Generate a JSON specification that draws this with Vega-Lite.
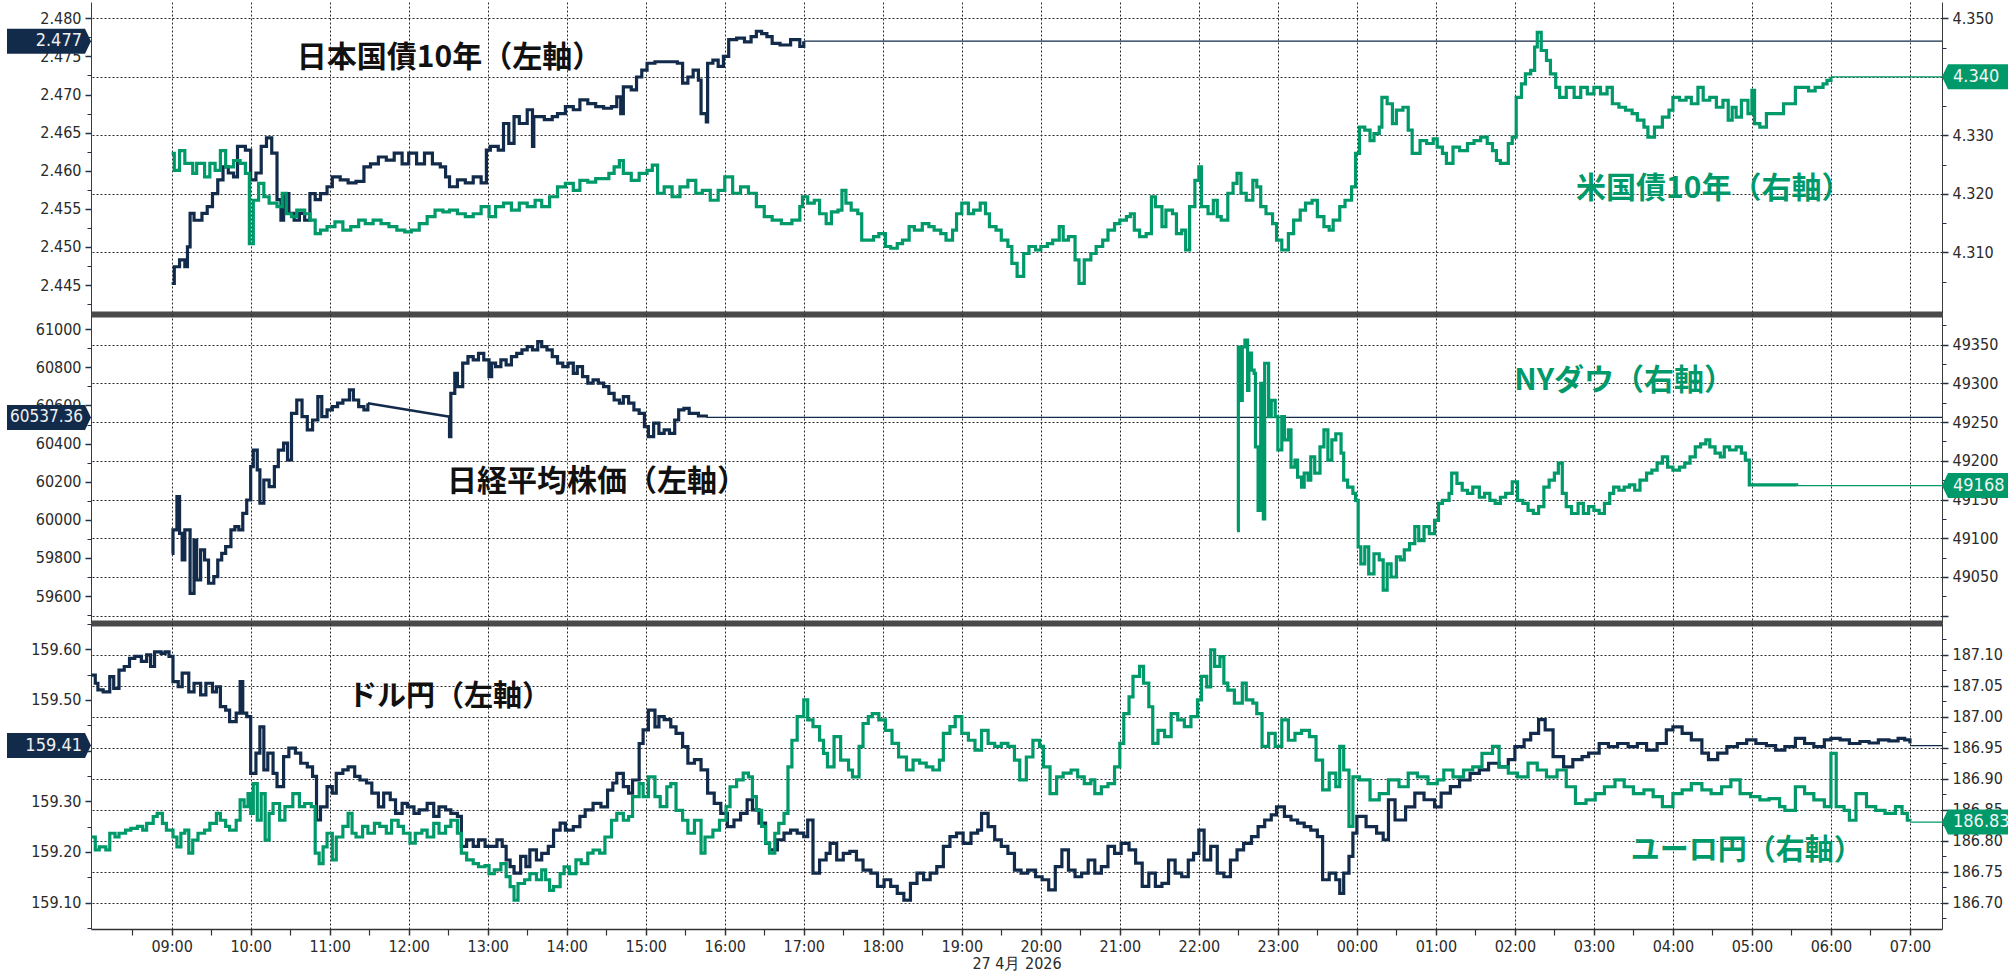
{
"$schema": "https://vega.github.io/schema/vega-lite/v6.json",
"background": "white",
"padding": {"left": 7, "right": 2, "top": 2, "bottom": 0},
"bounds": "flush",
"spacing": 0,
"config": {
  "view": {"stroke": null},
  "axis": {"labelFont": "DejaVu Sans Condensed", "labelFontSize": 16, "labelColor": "#2a2a2a", "domainColor": "#3c3c3c", "tickColor": "#22324a", "tickWidth": 1.5, "tickSize": 6, "gridColor": "#2a2a2a", "gridDash": [2, 2], "gridWidth": 1, "labelOverlap": false, "titleFont": "DejaVu Sans Condensed"}
},
"datasets": {
"midnight": [{"t": "28 00:00"}],
"jgbLast": [{"t": "27 17:00", "t2": "28 07:25", "v": 2.477}],
"ustLast": [{"t": "28 06:00", "t2": "28 07:25", "v": 4.34}],
"nkLast": [{"t": "27 15:46", "t2": "28 07:25", "v": 60537.36}],
"djLast": [{"t": "28 05:34", "t2": "28 07:25", "v": 49168}],
"ujLast": [{"t": "28 07:00", "t2": "28 07:25", "v": 159.41}],
"ejLast": [{"t": "28 07:00", "t2": "28 07:25", "v": 186.83}],
"jgb": [
{"t":"27 09:00","v":2.4452},{"t":"27 09:02","v":2.4474},{"t":"27 09:06","v":2.4483},{"t":"27 09:10","v":2.4474},{"t":"27 09:12","v":2.4500},{"t":"27 09:14","v":2.4544},{"t":"27 09:17","v":2.4535},{"t":"27 09:23","v":2.4544},{"t":"27 09:27","v":2.4553},{"t":"27 09:31","v":2.4570},{"t":"27 09:35","v":2.4588},{"t":"27 09:39","v":2.4605},{"t":"27 09:43","v":2.4597},{"t":"27 09:47","v":2.4592},{"t":"27 09:50","v":2.4632},{"t":"27 09:56","v":2.4627},{"t":"27 10:00","v":2.4588},{"t":"27 10:04","v":2.4597},{"t":"27 10:08","v":2.4632},{"t":"27 10:12","v":2.4643},{"t":"27 10:16","v":2.4623},{"t":"27 10:20","v":2.4562},{"t":"27 10:23","v":2.4535},{"t":"27 10:25","v":2.4570},{"t":"27 10:29","v":2.4544},{"t":"27 10:33","v":2.4535},{"t":"27 10:37","v":2.4544},{"t":"27 10:41","v":2.4535},{"t":"27 10:45","v":2.4570},{"t":"27 10:49","v":2.4562},{"t":"27 10:53","v":2.4570},{"t":"27 10:58","v":2.4579},{"t":"27 11:02","v":2.4592},{"t":"27 11:08","v":2.4588},{"t":"27 11:14","v":2.4584},{"t":"27 11:20","v":2.4586},{"t":"27 11:26","v":2.4605},{"t":"27 11:31","v":2.4609},{"t":"27 11:37","v":2.4618},{"t":"27 11:43","v":2.4614},{"t":"27 11:49","v":2.4623},{"t":"27 11:55","v":2.4609},{"t":"27 12:00","v":2.4623},{"t":"27 12:06","v":2.4609},{"t":"27 12:12","v":2.4623},{"t":"27 12:18","v":2.4609},{"t":"27 12:24","v":2.4605},{"t":"27 12:28","v":2.4592},{"t":"27 12:31","v":2.4579},{"t":"27 12:37","v":2.4588},{"t":"27 12:43","v":2.4584},{"t":"27 12:49","v":2.4592},{"t":"27 12:55","v":2.4584},{"t":"27 12:59","v":2.4627},{"t":"27 13:02","v":2.4632},{"t":"27 13:08","v":2.4627},{"t":"27 13:12","v":2.4662},{"t":"27 13:16","v":2.4636},{"t":"27 13:20","v":2.4671},{"t":"27 13:24","v":2.4662},{"t":"27 13:30","v":2.4680},{"t":"27 13:34","v":2.4632},{"t":"27 13:35","v":2.4671},{"t":"27 13:43","v":2.4667},{"t":"27 13:49","v":2.4671},{"t":"27 13:53","v":2.4675},{"t":"27 13:59","v":2.4684},{"t":"27 14:05","v":2.4680},{"t":"27 14:10","v":2.4693},{"t":"27 14:16","v":2.4688},{"t":"27 14:22","v":2.4684},{"t":"27 14:28","v":2.4682},{"t":"27 14:34","v":2.4684},{"t":"27 14:38","v":2.4697},{"t":"27 14:41","v":2.4675},{"t":"27 14:43","v":2.4710},{"t":"27 14:49","v":2.4706},{"t":"27 14:53","v":2.4723},{"t":"27 14:57","v":2.4732},{"t":"27 15:01","v":2.4741},{"t":"27 15:07","v":2.4743},{"t":"27 15:24","v":2.4741},{"t":"27 15:28","v":2.4715},{"t":"27 15:32","v":2.4723},{"t":"27 15:36","v":2.4732},{"t":"27 15:40","v":2.4719},{"t":"27 15:42","v":2.4675},{"t":"27 15:46","v":2.4664},{"t":"27 15:47","v":2.4741},{"t":"27 15:51","v":2.4745},{"t":"27 15:55","v":2.4737},{"t":"27 15:59","v":2.4750},{"t":"27 16:03","v":2.4772},{"t":"27 16:09","v":2.4774},{"t":"27 16:15","v":2.4769},{"t":"27 16:20","v":2.4776},{"t":"27 16:24","v":2.4783},{"t":"27 16:28","v":2.4780},{"t":"27 16:32","v":2.4776},{"t":"27 16:36","v":2.4767},{"t":"27 16:42","v":2.4765},{"t":"27 16:50","v":2.4772},{"t":"27 16:57","v":2.4763},{"t":"27 17:00","v":2.4770}
],
"ust": [
{"t":"27 09:00","v":4.3269},{"t":"27 09:02","v":4.3240},{"t":"27 09:06","v":4.3274},{"t":"27 09:10","v":4.3252},{"t":"27 09:16","v":4.3235},{"t":"27 09:19","v":4.3252},{"t":"27 09:25","v":4.3229},{"t":"27 09:29","v":4.3252},{"t":"27 09:33","v":4.3240},{"t":"27 09:37","v":4.3274},{"t":"27 09:41","v":4.3246},{"t":"27 09:47","v":4.3257},{"t":"27 09:52","v":4.3252},{"t":"27 09:56","v":4.3235},{"t":"27 09:59","v":4.3115},{"t":"27 10:02","v":4.3189},{"t":"27 10:06","v":4.3218},{"t":"27 10:10","v":4.3195},{"t":"27 10:14","v":4.3184},{"t":"27 10:20","v":4.3178},{"t":"27 10:24","v":4.3201},{"t":"27 10:27","v":4.3166},{"t":"27 10:31","v":4.3161},{"t":"27 10:35","v":4.3172},{"t":"27 10:41","v":4.3166},{"t":"27 10:45","v":4.3155},{"t":"27 10:49","v":4.3132},{"t":"27 10:53","v":4.3138},{"t":"27 10:58","v":4.3144},{"t":"27 11:04","v":4.3152},{"t":"27 11:10","v":4.3138},{"t":"27 11:16","v":4.3144},{"t":"27 11:22","v":4.3155},{"t":"27 11:27","v":4.3149},{"t":"27 11:33","v":4.3155},{"t":"27 11:39","v":4.3149},{"t":"27 11:45","v":4.3144},{"t":"27 11:51","v":4.3138},{"t":"27 11:57","v":4.3135},{"t":"27 12:02","v":4.3138},{"t":"27 12:08","v":4.3149},{"t":"27 12:14","v":4.3161},{"t":"27 12:20","v":4.3172},{"t":"27 12:26","v":4.3169},{"t":"27 12:31","v":4.3172},{"t":"27 12:37","v":4.3166},{"t":"27 12:43","v":4.3161},{"t":"27 12:49","v":4.3166},{"t":"27 12:55","v":4.3178},{"t":"27 13:01","v":4.3161},{"t":"27 13:06","v":4.3178},{"t":"27 13:12","v":4.3184},{"t":"27 13:18","v":4.3172},{"t":"27 13:24","v":4.3184},{"t":"27 13:30","v":4.3178},{"t":"27 13:36","v":4.3189},{"t":"27 13:41","v":4.3178},{"t":"27 13:47","v":4.3195},{"t":"27 13:53","v":4.3212},{"t":"27 13:59","v":4.3218},{"t":"27 14:05","v":4.3206},{"t":"27 14:10","v":4.3223},{"t":"27 14:16","v":4.3220},{"t":"27 14:22","v":4.3226},{"t":"27 14:32","v":4.3235},{"t":"27 14:36","v":4.3246},{"t":"27 14:40","v":4.3257},{"t":"27 14:43","v":4.3235},{"t":"27 14:49","v":4.3223},{"t":"27 14:55","v":4.3235},{"t":"27 15:01","v":4.3240},{"t":"27 15:05","v":4.3249},{"t":"27 15:09","v":4.3201},{"t":"27 15:14","v":4.3212},{"t":"27 15:20","v":4.3195},{"t":"27 15:26","v":4.3212},{"t":"27 15:32","v":4.3223},{"t":"27 15:38","v":4.3201},{"t":"27 15:43","v":4.3206},{"t":"27 15:49","v":4.3189},{"t":"27 15:55","v":4.3206},{"t":"27 16:00","v":4.3229},{"t":"27 16:06","v":4.3201},{"t":"27 16:12","v":4.3212},{"t":"27 16:18","v":4.3201},{"t":"27 16:24","v":4.3178},{"t":"27 16:30","v":4.3161},{"t":"27 16:36","v":4.3155},{"t":"27 16:43","v":4.3149},{"t":"27 16:51","v":4.3155},{"t":"27 16:57","v":4.3178},{"t":"27 16:59","v":4.3195},{"t":"27 17:03","v":4.3184},{"t":"27 17:08","v":4.3189},{"t":"27 17:12","v":4.3166},{"t":"27 17:17","v":4.3149},{"t":"27 17:21","v":4.3169},{"t":"27 17:26","v":4.3172},{"t":"27 17:29","v":4.3206},{"t":"27 17:32","v":4.3184},{"t":"27 17:36","v":4.3172},{"t":"27 17:41","v":4.3166},{"t":"27 17:44","v":4.3121},{"t":"27 17:53","v":4.3127},{"t":"27 17:57","v":4.3132},{"t":"27 18:02","v":4.3110},{"t":"27 18:06","v":4.3107},{"t":"27 18:11","v":4.3115},{"t":"27 18:15","v":4.3121},{"t":"27 18:20","v":4.3144},{"t":"27 18:24","v":4.3138},{"t":"27 18:30","v":4.3149},{"t":"27 18:35","v":4.3144},{"t":"27 18:39","v":4.3138},{"t":"27 18:44","v":4.3132},{"t":"27 18:48","v":4.3121},{"t":"27 18:53","v":4.3138},{"t":"27 18:56","v":4.3166},{"t":"27 19:00","v":4.3184},{"t":"27 19:05","v":4.3166},{"t":"27 19:09","v":4.3172},{"t":"27 19:14","v":4.3184},{"t":"27 19:18","v":4.3166},{"t":"27 19:21","v":4.3144},{"t":"27 19:26","v":4.3138},{"t":"27 19:30","v":4.3121},{"t":"27 19:35","v":4.3110},{"t":"27 19:38","v":4.3081},{"t":"27 19:42","v":4.3059},{"t":"27 19:47","v":4.3098},{"t":"27 19:51","v":4.3110},{"t":"27 19:56","v":4.3104},{"t":"27 20:00","v":4.3110},{"t":"27 20:05","v":4.3115},{"t":"27 20:09","v":4.3121},{"t":"27 20:14","v":4.3144},{"t":"27 20:17","v":4.3121},{"t":"27 20:21","v":4.3127},{"t":"27 20:26","v":4.3087},{"t":"27 20:29","v":4.3047},{"t":"27 20:33","v":4.3087},{"t":"27 20:38","v":4.3098},{"t":"27 20:42","v":4.3110},{"t":"27 20:47","v":4.3121},{"t":"27 20:51","v":4.3138},{"t":"27 20:56","v":4.3149},{"t":"27 21:00","v":4.3155},{"t":"27 21:05","v":4.3161},{"t":"27 21:08","v":4.3166},{"t":"27 21:11","v":4.3138},{"t":"27 21:15","v":4.3127},{"t":"27 21:20","v":4.3132},{"t":"27 21:24","v":4.3195},{"t":"27 21:27","v":4.3178},{"t":"27 21:32","v":4.3144},{"t":"27 21:35","v":4.3172},{"t":"27 21:40","v":4.3166},{"t":"27 21:43","v":4.3132},{"t":"27 21:47","v":4.3138},{"t":"27 21:50","v":4.3104},{"t":"27 21:53","v":4.3178},{"t":"27 21:57","v":4.3223},{"t":"27 22:00","v":4.3246},{"t":"27 22:02","v":4.3178},{"t":"27 22:07","v":4.3166},{"t":"27 22:11","v":4.3189},{"t":"27 22:14","v":4.3161},{"t":"27 22:17","v":4.3155},{"t":"27 22:22","v":4.3201},{"t":"27 22:26","v":4.3218},{"t":"27 22:29","v":4.3235},{"t":"27 22:32","v":4.3201},{"t":"27 22:36","v":4.3189},{"t":"27 22:41","v":4.3223},{"t":"27 22:44","v":4.3212},{"t":"27 22:47","v":4.3178},{"t":"27 22:51","v":4.3166},{"t":"27 22:56","v":4.3149},{"t":"27 22:59","v":4.3121},{"t":"27 23:03","v":4.3104},{"t":"27 23:08","v":4.3132},{"t":"27 23:12","v":4.3155},{"t":"27 23:17","v":4.3172},{"t":"27 23:21","v":4.3184},{"t":"27 23:26","v":4.3189},{"t":"27 23:30","v":4.3161},{"t":"27 23:35","v":4.3144},{"t":"27 23:39","v":4.3138},{"t":"27 23:42","v":4.3155},{"t":"27 23:47","v":4.3178},{"t":"27 23:51","v":4.3189},{"t":"27 23:56","v":4.3212},{"t":"27 23:59","v":4.3269},{"t":"28 00:02","v":4.3314},{"t":"28 00:06","v":4.3309},{"t":"28 00:10","v":4.3291},{"t":"28 00:13","v":4.3303},{"t":"28 00:17","v":4.3314},{"t":"28 00:19","v":4.3365},{"t":"28 00:23","v":4.3354},{"t":"28 00:27","v":4.3320},{"t":"28 00:30","v":4.3343},{"t":"28 00:35","v":4.3348},{"t":"28 00:39","v":4.3309},{"t":"28 00:42","v":4.3269},{"t":"28 00:48","v":4.3291},{"t":"28 00:53","v":4.3286},{"t":"28 00:58","v":4.3294},{"t":"28 01:01","v":4.3280},{"t":"28 01:05","v":4.3269},{"t":"28 01:08","v":4.3252},{"t":"28 01:13","v":4.3280},{"t":"28 01:18","v":4.3274},{"t":"28 01:24","v":4.3286},{"t":"28 01:29","v":4.3291},{"t":"28 01:34","v":4.3297},{"t":"28 01:39","v":4.3286},{"t":"28 01:43","v":4.3274},{"t":"28 01:46","v":4.3257},{"t":"28 01:49","v":4.3252},{"t":"28 01:55","v":4.3286},{"t":"28 01:58","v":4.3297},{"t":"28 02:01","v":4.3365},{"t":"28 02:05","v":4.3388},{"t":"28 02:08","v":4.3405},{"t":"28 02:12","v":4.3411},{"t":"28 02:15","v":4.3451},{"t":"28 02:17","v":4.3476},{"t":"28 02:20","v":4.3445},{"t":"28 02:24","v":4.3428},{"t":"28 02:27","v":4.3405},{"t":"28 02:31","v":4.3382},{"t":"28 02:34","v":4.3365},{"t":"28 02:39","v":4.3382},{"t":"28 02:45","v":4.3365},{"t":"28 02:50","v":4.3382},{"t":"28 02:55","v":4.3371},{"t":"28 03:00","v":4.3382},{"t":"28 03:05","v":4.3371},{"t":"28 03:10","v":4.3382},{"t":"28 03:14","v":4.3354},{"t":"28 03:19","v":4.3348},{"t":"28 03:24","v":4.3343},{"t":"28 03:29","v":4.3337},{"t":"28 03:33","v":4.3326},{"t":"28 03:38","v":4.3314},{"t":"28 03:41","v":4.3297},{"t":"28 03:46","v":4.3314},{"t":"28 03:52","v":4.3331},{"t":"28 03:57","v":4.3343},{"t":"28 04:00","v":4.3365},{"t":"28 04:05","v":4.3360},{"t":"28 04:10","v":4.3365},{"t":"28 04:14","v":4.3354},{"t":"28 04:19","v":4.3382},{"t":"28 04:23","v":4.3360},{"t":"28 04:28","v":4.3365},{"t":"28 04:33","v":4.3348},{"t":"28 04:38","v":4.3360},{"t":"28 04:42","v":4.3326},{"t":"28 04:45","v":4.3348},{"t":"28 04:48","v":4.3331},{"t":"28 04:52","v":4.3360},{"t":"28 04:57","v":4.3337},{"t":"28 05:00","v":4.3377},{"t":"28 05:02","v":4.3320},{"t":"28 05:06","v":4.3314},{"t":"28 05:11","v":4.3337},{"t":"28 05:24","v":4.3354},{"t":"28 05:33","v":4.3382},{"t":"28 05:43","v":4.3376},{"t":"28 05:48","v":4.3382},{"t":"28 05:54","v":4.3388},{"t":"28 05:57","v":4.3394},{"t":"28 06:00","v":4.3400}
],
"nkAM": [
{"t":"27 09:00","v":59824},{"t":"27 09:01","v":59947},{"t":"27 09:04","v":60122},{"t":"27 09:06","v":59929},{"t":"27 09:08","v":59789},{"t":"27 09:10","v":59947},{"t":"27 09:14","v":59614},{"t":"27 09:17","v":59894},{"t":"27 09:19","v":59684},{"t":"27 09:22","v":59842},{"t":"27 09:25","v":59789},{"t":"27 09:28","v":59667},{"t":"27 09:32","v":59702},{"t":"27 09:35","v":59789},{"t":"27 09:38","v":59824},{"t":"27 09:41","v":59859},{"t":"27 09:45","v":59947},{"t":"27 09:48","v":59964},{"t":"27 09:51","v":59947},{"t":"27 09:54","v":60034},{"t":"27 09:57","v":60104},{"t":"27 10:00","v":60279},{"t":"27 10:02","v":60366},{"t":"27 10:05","v":60262},{"t":"27 10:07","v":60087},{"t":"27 10:10","v":60209},{"t":"27 10:14","v":60174},{"t":"27 10:18","v":60279},{"t":"27 10:21","v":60366},{"t":"27 10:25","v":60402},{"t":"27 10:28","v":60314},{"t":"27 10:31","v":60559},{"t":"27 10:35","v":60629},{"t":"27 10:39","v":60542},{"t":"27 10:43","v":60472},{"t":"27 10:47","v":60524},{"t":"27 10:51","v":60647},{"t":"27 10:54","v":60542},{"t":"27 10:58","v":60577},{"t":"27 11:02","v":60594},{"t":"27 11:06","v":60612},{"t":"27 11:10","v":60629},{"t":"27 11:15","v":60682},{"t":"27 11:18","v":60629},{"t":"27 11:22","v":60594},{"t":"27 11:26","v":60577},{"t":"27 11:29","v":60612}
],
"nkLunch": [{"t":"27 11:29","v":60612},{"t":"27 12:30","v":60542}],
"nkPM": [
{"t":"27 12:30","v":60542},{"t":"27 12:31","v":60437},{"t":"27 12:32","v":60664},{"t":"27 12:35","v":60769},{"t":"27 12:37","v":60699},{"t":"27 12:41","v":60822},{"t":"27 12:45","v":60857},{"t":"27 12:49","v":60839},{"t":"27 12:53","v":60874},{"t":"27 12:57","v":60839},{"t":"27 13:01","v":60752},{"t":"27 13:03","v":60822},{"t":"27 13:06","v":60804},{"t":"27 13:10","v":60839},{"t":"27 13:14","v":60813},{"t":"27 13:18","v":60857},{"t":"27 13:22","v":60874},{"t":"27 13:26","v":60892},{"t":"27 13:30","v":60909},{"t":"27 13:34","v":60892},{"t":"27 13:38","v":60935},{"t":"27 13:41","v":60909},{"t":"27 13:45","v":60892},{"t":"27 13:49","v":60857},{"t":"27 13:53","v":60822},{"t":"27 13:57","v":60804},{"t":"27 14:01","v":60822},{"t":"27 14:05","v":60769},{"t":"27 14:08","v":60804},{"t":"27 14:12","v":60752},{"t":"27 14:16","v":60717},{"t":"27 14:20","v":60734},{"t":"27 14:24","v":60717},{"t":"27 14:28","v":60699},{"t":"27 14:32","v":60664},{"t":"27 14:36","v":60629},{"t":"27 14:40","v":60612},{"t":"27 14:43","v":60647},{"t":"27 14:47","v":60612},{"t":"27 14:51","v":60577},{"t":"27 14:55","v":60559},{"t":"27 14:59","v":60489},{"t":"27 15:02","v":60437},{"t":"27 15:06","v":60507},{"t":"27 15:10","v":60454},{"t":"27 15:14","v":60472},{"t":"27 15:18","v":60454},{"t":"27 15:22","v":60524},{"t":"27 15:25","v":60577},{"t":"27 15:29","v":60585},{"t":"27 15:33","v":60559},{"t":"27 15:40","v":60545},{"t":"27 15:46","v":60537}
],
"dj": [
{"t":"27 22:29","v":49110},{"t":"27 22:30","v":49347},{"t":"27 22:32","v":49278},{"t":"27 22:33","v":49347},{"t":"27 22:35","v":49356},{"t":"27 22:37","v":49291},{"t":"27 22:38","v":49339},{"t":"27 22:40","v":49317},{"t":"27 22:42","v":49313},{"t":"27 22:43","v":49218},{"t":"27 22:45","v":49136},{"t":"27 22:47","v":49300},{"t":"27 22:49","v":49125},{"t":"27 22:50","v":49326},{"t":"27 22:53","v":49257},{"t":"27 22:55","v":49278},{"t":"27 22:58","v":49257},{"t":"27 23:00","v":49214},{"t":"27 23:03","v":49257},{"t":"27 23:05","v":49227},{"t":"27 23:08","v":49240},{"t":"27 23:10","v":49192},{"t":"27 23:13","v":49201},{"t":"27 23:15","v":49179},{"t":"27 23:18","v":49166},{"t":"27 23:20","v":49184},{"t":"27 23:23","v":49175},{"t":"27 23:25","v":49205},{"t":"27 23:28","v":49184},{"t":"27 23:32","v":49218},{"t":"27 23:35","v":49240},{"t":"27 23:38","v":49201},{"t":"27 23:41","v":49227},{"t":"27 23:44","v":49235},{"t":"27 23:48","v":49210},{"t":"27 23:50","v":49175},{"t":"27 23:53","v":49166},{"t":"27 23:57","v":49158},{"t":"27 23:59","v":49149},{"t":"28 00:01","v":49089},{"t":"28 00:03","v":49067},{"t":"28 00:06","v":49089},{"t":"28 00:09","v":49054},{"t":"28 00:13","v":49080},{"t":"28 00:17","v":49072},{"t":"28 00:20","v":49033},{"t":"28 00:23","v":49067},{"t":"28 00:26","v":49050},{"t":"28 00:30","v":49076},{"t":"28 00:33","v":49072},{"t":"28 00:36","v":49085},{"t":"28 00:40","v":49093},{"t":"28 00:44","v":49115},{"t":"28 00:47","v":49097},{"t":"28 00:51","v":49115},{"t":"28 00:55","v":49106},{"t":"28 00:59","v":49123},{"t":"28 01:02","v":49145},{"t":"28 01:05","v":49149},{"t":"28 01:10","v":49158},{"t":"28 01:12","v":49184},{"t":"28 01:16","v":49171},{"t":"28 01:20","v":49162},{"t":"28 01:24","v":49158},{"t":"28 01:28","v":49166},{"t":"28 01:33","v":49153},{"t":"28 01:37","v":49158},{"t":"28 01:41","v":49149},{"t":"28 01:45","v":49145},{"t":"28 01:49","v":49153},{"t":"28 01:53","v":49158},{"t":"28 01:58","v":49173},{"t":"28 02:02","v":49149},{"t":"28 02:06","v":49145},{"t":"28 02:10","v":49136},{"t":"28 02:14","v":49132},{"t":"28 02:18","v":49141},{"t":"28 02:22","v":49166},{"t":"28 02:26","v":49175},{"t":"28 02:30","v":49184},{"t":"28 02:33","v":49197},{"t":"28 02:36","v":49158},{"t":"28 02:39","v":49141},{"t":"28 02:43","v":49132},{"t":"28 02:48","v":49145},{"t":"28 02:52","v":49132},{"t":"28 02:56","v":49141},{"t":"28 03:00","v":49136},{"t":"28 03:04","v":49132},{"t":"28 03:08","v":49145},{"t":"28 03:12","v":49158},{"t":"28 03:15","v":49166},{"t":"28 03:19","v":49162},{"t":"28 03:23","v":49166},{"t":"28 03:27","v":49169},{"t":"28 03:31","v":49162},{"t":"28 03:35","v":49175},{"t":"28 03:40","v":49184},{"t":"28 03:44","v":49188},{"t":"28 03:48","v":49197},{"t":"28 03:52","v":49205},{"t":"28 03:56","v":49192},{"t":"28 04:00","v":49188},{"t":"28 04:05","v":49192},{"t":"28 04:09","v":49197},{"t":"28 04:13","v":49205},{"t":"28 04:17","v":49218},{"t":"28 04:21","v":49222},{"t":"28 04:25","v":49227},{"t":"28 04:28","v":49218},{"t":"28 04:32","v":49210},{"t":"28 04:36","v":49205},{"t":"28 04:39","v":49218},{"t":"28 04:43","v":49214},{"t":"28 04:48","v":49218},{"t":"28 04:52","v":49210},{"t":"28 04:55","v":49201},{"t":"28 04:58","v":49169},{"t":"28 05:34","v":49168}
],
"uj": [
{"t":"27 07:59","v":159.549},{"t":"27 08:02","v":159.533},{"t":"27 08:04","v":159.520},{"t":"27 08:08","v":159.516},{"t":"27 08:13","v":159.546},{"t":"27 08:16","v":159.523},{"t":"27 08:20","v":159.559},{"t":"27 08:24","v":159.566},{"t":"27 08:28","v":159.582},{"t":"27 08:32","v":159.586},{"t":"27 08:37","v":159.576},{"t":"27 08:41","v":159.589},{"t":"27 08:44","v":159.566},{"t":"27 08:47","v":159.595},{"t":"27 08:52","v":159.592},{"t":"27 08:55","v":159.595},{"t":"27 08:58","v":159.586},{"t":"27 09:01","v":159.536},{"t":"27 09:05","v":159.526},{"t":"27 09:08","v":159.553},{"t":"27 09:13","v":159.516},{"t":"27 09:17","v":159.533},{"t":"27 09:22","v":159.510},{"t":"27 09:26","v":159.533},{"t":"27 09:31","v":159.516},{"t":"27 09:34","v":159.526},{"t":"27 09:37","v":159.487},{"t":"27 09:41","v":159.480},{"t":"27 09:44","v":159.457},{"t":"27 09:49","v":159.474},{"t":"27 09:52","v":159.536},{"t":"27 09:54","v":159.474},{"t":"27 09:57","v":159.467},{"t":"27 10:00","v":159.355},{"t":"27 10:04","v":159.395},{"t":"27 10:07","v":159.447},{"t":"27 10:10","v":159.362},{"t":"27 10:13","v":159.395},{"t":"27 10:17","v":159.355},{"t":"27 10:20","v":159.329},{"t":"27 10:25","v":159.388},{"t":"27 10:29","v":159.405},{"t":"27 10:34","v":159.395},{"t":"27 10:38","v":159.375},{"t":"27 10:43","v":159.368},{"t":"27 10:47","v":159.349},{"t":"27 10:50","v":159.263},{"t":"27 10:53","v":159.289},{"t":"27 10:58","v":159.329},{"t":"27 11:02","v":159.316},{"t":"27 11:05","v":159.355},{"t":"27 11:10","v":159.362},{"t":"27 11:14","v":159.368},{"t":"27 11:19","v":159.349},{"t":"27 11:23","v":159.342},{"t":"27 11:28","v":159.336},{"t":"27 11:32","v":159.316},{"t":"27 11:37","v":159.289},{"t":"27 11:41","v":159.316},{"t":"27 11:46","v":159.303},{"t":"27 11:50","v":159.276},{"t":"27 11:55","v":159.296},{"t":"27 11:59","v":159.289},{"t":"27 12:04","v":159.276},{"t":"27 12:08","v":159.283},{"t":"27 12:14","v":159.296},{"t":"27 12:19","v":159.270},{"t":"27 12:23","v":159.289},{"t":"27 12:28","v":159.283},{"t":"27 12:32","v":159.276},{"t":"27 12:37","v":159.270},{"t":"27 12:40","v":159.211},{"t":"27 12:44","v":159.224},{"t":"27 12:49","v":159.211},{"t":"27 12:53","v":159.224},{"t":"27 12:58","v":159.211},{"t":"27 13:07","v":159.224},{"t":"27 13:11","v":159.211},{"t":"27 13:14","v":159.184},{"t":"27 13:17","v":159.171},{"t":"27 13:20","v":159.158},{"t":"27 13:25","v":159.191},{"t":"27 13:29","v":159.171},{"t":"27 13:32","v":159.204},{"t":"27 13:37","v":159.184},{"t":"27 13:41","v":159.197},{"t":"27 13:46","v":159.211},{"t":"27 13:50","v":159.243},{"t":"27 13:55","v":159.257},{"t":"27 13:59","v":159.243},{"t":"27 14:05","v":159.250},{"t":"27 14:10","v":159.270},{"t":"27 14:14","v":159.283},{"t":"27 14:20","v":159.296},{"t":"27 14:26","v":159.289},{"t":"27 14:31","v":159.322},{"t":"27 14:35","v":159.336},{"t":"27 14:38","v":159.355},{"t":"27 14:43","v":159.329},{"t":"27 14:47","v":159.316},{"t":"27 14:50","v":159.342},{"t":"27 14:55","v":159.414},{"t":"27 14:58","v":159.441},{"t":"27 15:02","v":159.480},{"t":"27 15:07","v":159.447},{"t":"27 15:10","v":159.467},{"t":"27 15:14","v":159.461},{"t":"27 15:19","v":159.447},{"t":"27 15:23","v":159.434},{"t":"27 15:28","v":159.408},{"t":"27 15:32","v":159.375},{"t":"27 15:37","v":159.382},{"t":"27 15:42","v":159.362},{"t":"27 15:47","v":159.316},{"t":"27 15:52","v":159.296},{"t":"27 15:57","v":159.276},{"t":"27 16:02","v":159.250},{"t":"27 16:07","v":159.263},{"t":"27 16:12","v":159.276},{"t":"27 16:17","v":159.303},{"t":"27 16:21","v":159.283},{"t":"27 16:26","v":159.257},{"t":"27 16:31","v":159.217},{"t":"27 16:34","v":159.204},{"t":"27 16:40","v":159.224},{"t":"27 16:45","v":159.237},{"t":"27 16:50","v":159.243},{"t":"27 16:55","v":159.237},{"t":"27 17:00","v":159.230},{"t":"27 17:03","v":159.263},{"t":"27 17:07","v":159.158},{"t":"27 17:12","v":159.184},{"t":"27 17:17","v":159.197},{"t":"27 17:20","v":159.217},{"t":"27 17:25","v":159.184},{"t":"27 17:30","v":159.197},{"t":"27 17:35","v":159.201},{"t":"27 17:40","v":159.184},{"t":"27 17:45","v":159.164},{"t":"27 17:51","v":159.158},{"t":"27 17:56","v":159.132},{"t":"27 18:01","v":159.145},{"t":"27 18:06","v":159.132},{"t":"27 18:11","v":159.118},{"t":"27 18:16","v":159.105},{"t":"27 18:21","v":159.138},{"t":"27 18:26","v":159.158},{"t":"27 18:31","v":159.145},{"t":"27 18:36","v":159.158},{"t":"27 18:41","v":159.171},{"t":"27 18:46","v":159.211},{"t":"27 18:51","v":159.230},{"t":"27 18:56","v":159.237},{"t":"27 19:01","v":159.217},{"t":"27 19:07","v":159.237},{"t":"27 19:12","v":159.243},{"t":"27 19:15","v":159.276},{"t":"27 19:20","v":159.250},{"t":"27 19:25","v":159.224},{"t":"27 19:30","v":159.211},{"t":"27 19:35","v":159.197},{"t":"27 19:40","v":159.164},{"t":"27 19:45","v":159.158},{"t":"27 19:50","v":159.164},{"t":"27 19:56","v":159.151},{"t":"27 20:01","v":159.145},{"t":"27 20:06","v":159.125},{"t":"27 20:11","v":159.171},{"t":"27 20:16","v":159.204},{"t":"27 20:21","v":159.164},{"t":"27 20:26","v":159.151},{"t":"27 20:31","v":159.158},{"t":"27 20:36","v":159.184},{"t":"27 20:41","v":159.158},{"t":"27 20:46","v":159.171},{"t":"27 20:51","v":159.211},{"t":"27 20:56","v":159.197},{"t":"27 21:01","v":159.217},{"t":"27 21:07","v":159.204},{"t":"27 21:12","v":159.178},{"t":"27 21:17","v":159.132},{"t":"27 21:22","v":159.158},{"t":"27 21:27","v":159.132},{"t":"27 21:32","v":159.138},{"t":"27 21:37","v":159.184},{"t":"27 21:42","v":159.158},{"t":"27 21:47","v":159.151},{"t":"27 21:52","v":159.184},{"t":"27 21:56","v":159.197},{"t":"27 22:00","v":159.243},{"t":"27 22:04","v":159.184},{"t":"27 22:09","v":159.211},{"t":"27 22:14","v":159.158},{"t":"27 22:19","v":159.151},{"t":"27 22:24","v":159.184},{"t":"27 22:29","v":159.204},{"t":"27 22:34","v":159.217},{"t":"27 22:40","v":159.230},{"t":"27 22:45","v":159.250},{"t":"27 22:50","v":159.263},{"t":"27 22:55","v":159.273},{"t":"27 22:59","v":159.289},{"t":"27 23:05","v":159.270},{"t":"27 23:10","v":159.263},{"t":"27 23:15","v":159.257},{"t":"27 23:20","v":159.250},{"t":"27 23:25","v":159.243},{"t":"27 23:30","v":159.230},{"t":"27 23:34","v":159.145},{"t":"27 23:39","v":159.158},{"t":"27 23:44","v":159.145},{"t":"27 23:47","v":159.118},{"t":"27 23:50","v":159.158},{"t":"27 23:54","v":159.191},{"t":"27 23:57","v":159.237},{"t":"28 00:00","v":159.270},{"t":"28 00:07","v":159.250},{"t":"28 00:15","v":159.237},{"t":"28 00:20","v":159.224},{"t":"28 00:24","v":159.303},{"t":"28 00:29","v":159.263},{"t":"28 00:37","v":159.289},{"t":"28 00:44","v":159.316},{"t":"28 00:51","v":159.303},{"t":"28 00:59","v":159.289},{"t":"28 01:04","v":159.316},{"t":"28 01:11","v":159.329},{"t":"28 01:18","v":159.342},{"t":"28 01:26","v":159.355},{"t":"28 01:33","v":159.362},{"t":"28 01:40","v":159.375},{"t":"28 01:48","v":159.368},{"t":"28 01:55","v":159.382},{"t":"28 02:00","v":159.408},{"t":"28 02:07","v":159.421},{"t":"28 02:12","v":159.434},{"t":"28 02:18","v":159.461},{"t":"28 02:23","v":159.441},{"t":"28 02:29","v":159.388},{"t":"28 02:37","v":159.368},{"t":"28 02:44","v":159.382},{"t":"28 02:51","v":159.388},{"t":"28 02:56","v":159.395},{"t":"28 03:04","v":159.414},{"t":"28 03:11","v":159.408},{"t":"28 03:18","v":159.414},{"t":"28 03:26","v":159.408},{"t":"28 03:33","v":159.414},{"t":"28 03:40","v":159.401},{"t":"28 03:48","v":159.414},{"t":"28 03:55","v":159.441},{"t":"28 04:00","v":159.447},{"t":"28 04:07","v":159.434},{"t":"28 04:14","v":159.421},{"t":"28 04:22","v":159.395},{"t":"28 04:27","v":159.382},{"t":"28 04:34","v":159.395},{"t":"28 04:41","v":159.408},{"t":"28 04:49","v":159.414},{"t":"28 04:56","v":159.421},{"t":"28 05:03","v":159.414},{"t":"28 05:11","v":159.410},{"t":"28 05:18","v":159.401},{"t":"28 05:25","v":159.408},{"t":"28 05:33","v":159.424},{"t":"28 05:40","v":159.414},{"t":"28 05:47","v":159.408},{"t":"28 05:55","v":159.421},{"t":"28 06:00","v":159.424},{"t":"28 06:07","v":159.421},{"t":"28 06:14","v":159.414},{"t":"28 06:22","v":159.418},{"t":"28 06:29","v":159.415},{"t":"28 06:36","v":159.421},{"t":"28 06:44","v":159.419},{"t":"28 06:51","v":159.424},{"t":"28 06:56","v":159.421},{"t":"28 07:00","v":159.414}
],
"ej": [
{"t":"27 07:59","v":186.806},{"t":"27 08:02","v":186.785},{"t":"27 08:05","v":186.790},{"t":"27 08:10","v":186.785},{"t":"27 08:13","v":186.812},{"t":"27 08:17","v":186.806},{"t":"27 08:20","v":186.812},{"t":"27 08:25","v":186.817},{"t":"27 08:29","v":186.820},{"t":"27 08:34","v":186.823},{"t":"27 08:38","v":186.817},{"t":"27 08:41","v":186.828},{"t":"27 08:46","v":186.839},{"t":"27 08:49","v":186.844},{"t":"27 08:53","v":186.828},{"t":"27 08:56","v":186.817},{"t":"27 09:01","v":186.806},{"t":"27 09:04","v":186.790},{"t":"27 09:07","v":186.812},{"t":"27 09:10","v":186.817},{"t":"27 09:13","v":186.780},{"t":"27 09:16","v":186.801},{"t":"27 09:20","v":186.812},{"t":"27 09:25","v":186.817},{"t":"27 09:29","v":186.828},{"t":"27 09:34","v":186.844},{"t":"27 09:37","v":186.833},{"t":"27 09:41","v":186.823},{"t":"27 09:44","v":186.817},{"t":"27 09:49","v":186.833},{"t":"27 09:52","v":186.866},{"t":"27 09:55","v":186.855},{"t":"27 09:58","v":186.876},{"t":"27 10:00","v":186.844},{"t":"27 10:02","v":186.892},{"t":"27 10:05","v":186.833},{"t":"27 10:08","v":186.876},{"t":"27 10:11","v":186.801},{"t":"27 10:14","v":186.844},{"t":"27 10:17","v":186.860},{"t":"27 10:22","v":186.833},{"t":"27 10:26","v":186.855},{"t":"27 10:32","v":186.876},{"t":"27 10:37","v":186.855},{"t":"27 10:41","v":186.860},{"t":"27 10:46","v":186.855},{"t":"27 10:49","v":186.780},{"t":"27 10:52","v":186.763},{"t":"27 10:55","v":186.790},{"t":"27 10:58","v":186.812},{"t":"27 11:02","v":186.769},{"t":"27 11:05","v":186.806},{"t":"27 11:10","v":186.823},{"t":"27 11:14","v":186.844},{"t":"27 11:17","v":186.812},{"t":"27 11:20","v":186.806},{"t":"27 11:25","v":186.823},{"t":"27 11:29","v":186.812},{"t":"27 11:34","v":186.828},{"t":"27 11:38","v":186.823},{"t":"27 11:43","v":186.812},{"t":"27 11:47","v":186.833},{"t":"27 11:52","v":186.823},{"t":"27 11:56","v":186.812},{"t":"27 12:01","v":186.796},{"t":"27 12:05","v":186.812},{"t":"27 12:10","v":186.817},{"t":"27 12:14","v":186.806},{"t":"27 12:19","v":186.828},{"t":"27 12:23","v":186.812},{"t":"27 12:28","v":186.823},{"t":"27 12:32","v":186.833},{"t":"27 12:37","v":186.812},{"t":"27 12:40","v":186.780},{"t":"27 12:44","v":186.769},{"t":"27 12:49","v":186.763},{"t":"27 12:53","v":186.758},{"t":"27 12:58","v":186.760},{"t":"27 13:01","v":186.747},{"t":"27 13:05","v":186.753},{"t":"27 13:10","v":186.763},{"t":"27 13:14","v":186.742},{"t":"27 13:17","v":186.726},{"t":"27 13:20","v":186.704},{"t":"27 13:23","v":186.731},{"t":"27 13:28","v":186.737},{"t":"27 13:32","v":186.747},{"t":"27 13:37","v":186.737},{"t":"27 13:41","v":186.753},{"t":"27 13:44","v":186.737},{"t":"27 13:47","v":186.720},{"t":"27 13:50","v":186.726},{"t":"27 13:55","v":186.747},{"t":"27 13:58","v":186.758},{"t":"27 14:02","v":186.747},{"t":"27 14:07","v":186.769},{"t":"27 14:11","v":186.763},{"t":"27 14:16","v":186.780},{"t":"27 14:20","v":186.785},{"t":"27 14:25","v":186.780},{"t":"27 14:29","v":186.806},{"t":"27 14:34","v":186.833},{"t":"27 14:38","v":186.844},{"t":"27 14:43","v":186.833},{"t":"27 14:47","v":186.839},{"t":"27 14:50","v":186.871},{"t":"27 14:55","v":186.892},{"t":"27 14:58","v":186.871},{"t":"27 15:02","v":186.903},{"t":"27 15:07","v":186.871},{"t":"27 15:11","v":186.855},{"t":"27 15:16","v":186.887},{"t":"27 15:19","v":186.892},{"t":"27 15:23","v":186.849},{"t":"27 15:28","v":186.833},{"t":"27 15:32","v":186.812},{"t":"27 15:37","v":186.833},{"t":"27 15:42","v":186.780},{"t":"27 15:45","v":186.806},{"t":"27 15:51","v":186.817},{"t":"27 15:56","v":186.833},{"t":"27 16:01","v":186.855},{"t":"27 16:04","v":186.887},{"t":"27 16:09","v":186.898},{"t":"27 16:14","v":186.909},{"t":"27 16:18","v":186.903},{"t":"27 16:21","v":186.871},{"t":"27 16:24","v":186.849},{"t":"27 16:28","v":186.823},{"t":"27 16:31","v":186.796},{"t":"27 16:34","v":186.780},{"t":"27 16:38","v":186.812},{"t":"27 16:41","v":186.828},{"t":"27 16:45","v":186.844},{"t":"27 16:48","v":186.919},{"t":"27 16:51","v":186.962},{"t":"27 16:55","v":187.000},{"t":"27 17:00","v":187.027},{"t":"27 17:03","v":186.995},{"t":"27 17:07","v":186.984},{"t":"27 17:12","v":186.962},{"t":"27 17:15","v":186.941},{"t":"27 17:18","v":186.919},{"t":"27 17:23","v":186.968},{"t":"27 17:28","v":186.930},{"t":"27 17:34","v":186.914},{"t":"27 17:37","v":186.903},{"t":"27 17:42","v":186.952},{"t":"27 17:45","v":186.989},{"t":"27 17:49","v":187.000},{"t":"27 17:52","v":187.005},{"t":"27 17:57","v":186.995},{"t":"27 18:02","v":186.978},{"t":"27 18:07","v":186.957},{"t":"27 18:12","v":186.935},{"t":"27 18:18","v":186.914},{"t":"27 18:23","v":186.930},{"t":"27 18:28","v":186.925},{"t":"27 18:33","v":186.919},{"t":"27 18:38","v":186.914},{"t":"27 18:43","v":186.930},{"t":"27 18:46","v":186.973},{"t":"27 18:51","v":186.984},{"t":"27 18:55","v":187.000},{"t":"27 19:00","v":186.973},{"t":"27 19:05","v":186.962},{"t":"27 19:10","v":186.946},{"t":"27 19:15","v":186.978},{"t":"27 19:20","v":186.957},{"t":"27 19:25","v":186.952},{"t":"27 19:30","v":186.957},{"t":"27 19:35","v":186.952},{"t":"27 19:40","v":186.930},{"t":"27 19:44","v":186.898},{"t":"27 19:49","v":186.935},{"t":"27 19:54","v":186.962},{"t":"27 19:59","v":186.952},{"t":"27 20:02","v":186.919},{"t":"27 20:07","v":186.876},{"t":"27 20:12","v":186.903},{"t":"27 20:17","v":186.909},{"t":"27 20:23","v":186.914},{"t":"27 20:28","v":186.903},{"t":"27 20:33","v":186.892},{"t":"27 20:38","v":186.898},{"t":"27 20:41","v":186.876},{"t":"27 20:46","v":186.887},{"t":"27 20:51","v":186.892},{"t":"27 20:56","v":186.919},{"t":"27 21:00","v":186.957},{"t":"27 21:03","v":187.005},{"t":"27 21:07","v":187.032},{"t":"27 21:10","v":187.065},{"t":"27 21:15","v":187.081},{"t":"27 21:18","v":187.054},{"t":"27 21:22","v":187.016},{"t":"27 21:25","v":186.957},{"t":"27 21:29","v":186.978},{"t":"27 21:34","v":186.968},{"t":"27 21:39","v":187.005},{"t":"27 21:44","v":186.995},{"t":"27 21:49","v":186.984},{"t":"27 21:54","v":187.000},{"t":"27 21:59","v":187.027},{"t":"27 22:02","v":187.065},{"t":"27 22:06","v":187.048},{"t":"27 22:09","v":187.108},{"t":"27 22:12","v":187.081},{"t":"27 22:16","v":187.097},{"t":"27 22:19","v":187.054},{"t":"27 22:22","v":187.043},{"t":"27 22:27","v":187.022},{"t":"27 22:33","v":187.054},{"t":"27 22:36","v":187.027},{"t":"27 22:41","v":187.022},{"t":"27 22:44","v":187.005},{"t":"27 22:48","v":186.952},{"t":"27 22:53","v":186.973},{"t":"27 22:58","v":186.952},{"t":"27 23:03","v":186.995},{"t":"27 23:08","v":186.962},{"t":"27 23:13","v":186.973},{"t":"27 23:18","v":186.978},{"t":"27 23:24","v":186.968},{"t":"27 23:29","v":186.930},{"t":"27 23:34","v":186.882},{"t":"27 23:39","v":186.909},{"t":"27 23:44","v":186.887},{"t":"27 23:47","v":186.952},{"t":"27 23:50","v":186.914},{"t":"27 23:54","v":186.823},{"t":"27 23:57","v":186.903},{"t":"28 00:02","v":186.898},{"t":"28 00:10","v":186.866},{"t":"28 00:17","v":186.876},{"t":"28 00:24","v":186.898},{"t":"28 00:32","v":186.887},{"t":"28 00:39","v":186.909},{"t":"28 00:46","v":186.903},{"t":"28 00:54","v":186.892},{"t":"28 01:01","v":186.898},{"t":"28 01:06","v":186.914},{"t":"28 01:13","v":186.903},{"t":"28 01:21","v":186.914},{"t":"28 01:28","v":186.919},{"t":"28 01:35","v":186.941},{"t":"28 01:43","v":186.952},{"t":"28 01:48","v":186.919},{"t":"28 01:55","v":186.909},{"t":"28 02:02","v":186.903},{"t":"28 02:10","v":186.925},{"t":"28 02:17","v":186.914},{"t":"28 02:24","v":186.903},{"t":"28 02:32","v":186.914},{"t":"28 02:39","v":186.887},{"t":"28 02:46","v":186.860},{"t":"28 02:54","v":186.866},{"t":"28 03:01","v":186.876},{"t":"28 03:08","v":186.887},{"t":"28 03:16","v":186.898},{"t":"28 03:23","v":186.887},{"t":"28 03:30","v":186.876},{"t":"28 03:38","v":186.882},{"t":"28 03:45","v":186.871},{"t":"28 03:52","v":186.855},{"t":"28 04:00","v":186.876},{"t":"28 04:07","v":186.882},{"t":"28 04:14","v":186.892},{"t":"28 04:22","v":186.882},{"t":"28 04:29","v":186.876},{"t":"28 04:37","v":186.887},{"t":"28 04:44","v":186.898},{"t":"28 04:51","v":186.876},{"t":"28 04:59","v":186.871},{"t":"28 05:06","v":186.866},{"t":"28 05:13","v":186.868},{"t":"28 05:21","v":186.855},{"t":"28 05:25","v":186.849},{"t":"28 05:33","v":186.887},{"t":"28 05:40","v":186.876},{"t":"28 05:47","v":186.866},{"t":"28 05:55","v":186.855},{"t":"28 06:00","v":186.941},{"t":"28 06:04","v":186.855},{"t":"28 06:10","v":186.849},{"t":"28 06:14","v":186.833},{"t":"28 06:19","v":186.876},{"t":"28 06:27","v":186.855},{"t":"28 06:34","v":186.849},{"t":"28 06:41","v":186.844},{"t":"28 06:49","v":186.855},{"t":"28 06:54","v":186.844},{"t":"28 06:58","v":186.833},{"t":"28 07:00","v":186.832}
]
},
"vconcat": [
{
"width": 1851, "height": 312,
"resolve": {"scale": {"y": "independent"}, "axis": {"x": "independent", "y": "independent"}},
"layer": [
{"resolve": {"axis": {"x": "independent", "y": "independent"}},
 "layer": [
{"data": {"name": "jgb", "format": {"parse": {"t": "date:'%d %H:%M'"}}},
 "mark": {"type": "line", "interpolate": "step-after", "color": "#132b4b", "strokeWidth": 3.2, "clip": true},
 "encoding": {
  "x": {"field": "t", "type": "temporal", "scale": {"domain": [{"year": 1900, "month": 1, "date": 27, "hours": 7, "minutes": 58, "seconds": 45}, {"year": 1900, "month": 1, "date": 28, "hours": 7, "minutes": 24, "seconds": 20}], "nice": false},
        "axis": {"title": null, "orient": "bottom", "labels": false, "ticks": false, "domain": true, "domainWidth": 6, "domainColor": "#4a4a4a", "grid": true,
                 "values": [{"year":1900,"month":1,"date":27,"hours":9},{"year":1900,"month":1,"date":27,"hours":10},{"year":1900,"month":1,"date":27,"hours":11},{"year":1900,"month":1,"date":27,"hours":12},{"year":1900,"month":1,"date":27,"hours":13},{"year":1900,"month":1,"date":27,"hours":14},{"year":1900,"month":1,"date":27,"hours":15},{"year":1900,"month":1,"date":27,"hours":16},{"year":1900,"month":1,"date":27,"hours":17},{"year":1900,"month":1,"date":27,"hours":18},{"year":1900,"month":1,"date":27,"hours":19},{"year":1900,"month":1,"date":27,"hours":20},{"year":1900,"month":1,"date":27,"hours":21},{"year":1900,"month":1,"date":27,"hours":22},{"year":1900,"month":1,"date":27,"hours":23},{"year":1900,"month":1,"date":28,"hours":0},{"year":1900,"month":1,"date":28,"hours":1},{"year":1900,"month":1,"date":28,"hours":2},{"year":1900,"month":1,"date":28,"hours":3},{"year":1900,"month":1,"date":28,"hours":4},{"year":1900,"month":1,"date":28,"hours":5},{"year":1900,"month":1,"date":28,"hours":6},{"year":1900,"month":1,"date":28,"hours":7}]}},
  "y": {"field": "v", "type": "quantitative", "scale": {"domain": [2.4412, 2.48214], "nice": false, "zero": false},
        "axis": {"orient": "left", "title": null, "grid": false, "values": [2.445, 2.45, 2.455, 2.46, 2.465, 2.47, 2.475, 2.48], "format": ".3f", "labelPadding": 4}}
 }},
{"data": {"name": "jgbLast", "format": {"parse": {"t": "date:'%d %H:%M'", "t2": "date:'%d %H:%M'"}}},
 "mark": {"type": "rule", "color": "#132b4b", "strokeWidth": 1.2, "clip": true},
 "encoding": {"x": {"field": "t", "type": "temporal", "axis": null}, "x2": {"field": "t2"},
  "y": {"field": "v", "type": "quantitative", "axis": {"orient": "left", "title": null, "grid": false, "labels": false, "domain": false, "tickSize": 4, "tickWidth": 1, "values": [2.4425, 2.4475, 2.4525, 2.4575, 2.4625, 2.4675, 2.4725, 2.4775]}}}},
{"data": {"name": "midnight", "format": {"parse": {"t": "date:'%d %H:%M'"}}},
 "mark": {"type": "rule", "color": "#111111", "strokeWidth": 1.5},
 "encoding": {"x": {"field": "t", "type": "temporal", "axis": null}}},
{"data": {"values": [{"t": "27 12:31", "v": 2.4748, "label": "日本国債10年（左軸）"}], "format": {"parse": {"t": "date:'%d %H:%M'"}}},
 "mark": {"type": "text", "font": "Noto Sans CJK JP", "fontSize": 30, "fontWeight": "bold", "color": "#111111", "baseline": "middle"},
 "encoding": {"x": {"field": "t", "type": "temporal", "axis": null}, "y": {"field": "v", "type": "quantitative", "axis": null}, "text": {"field": "label"}}},
{"data": {"name": "jgbLast"},
 "mark": {"type": "point", "shape": "M0,0L-0.6,-1.25L-8.4,-1.25L-8.4,1.25L-0.6,1.25Z", "size": 400, "filled": true, "color": "#132b4b", "opacity": 1, "strokeWidth": 0},
 "encoding": {"x": {"datum": {"year": 1900, "month": 1, "date": 27, "hours": 7, "minutes": 58, "seconds": 45}, "type": "temporal", "axis": null}, "y": {"field": "v", "type": "quantitative", "axis": null}}},
{"data": {"name": "jgbLast"},
 "mark": {"type": "text", "align": "right", "baseline": "middle", "dx": -9, "font": "DejaVu Sans Condensed", "fontSize": 18, "color": "#f0f0f0"},
 "encoding": {"x": {"datum": {"year": 1900, "month": 1, "date": 27, "hours": 7, "minutes": 58, "seconds": 45}, "type": "temporal", "axis": null}, "y": {"field": "v", "type": "quantitative", "axis": null}, "text": {"field": "v", "type": "quantitative", "format": ".3f"}}}
]},
{"resolve": {"axis": {"x": "independent", "y": "independent"}},
 "layer": [
{"data": {"name": "ust", "format": {"parse": {"t": "date:'%d %H:%M'"}}},
 "mark": {"type": "line", "interpolate": "step-after", "color": "#00996a", "strokeWidth": 3.2, "clip": true},
 "encoding": {
  "x": {"field": "t", "type": "temporal", "axis": null},
  "y": {"field": "v", "type": "quantitative", "scale": {"domain": [4.29946, 4.35279], "nice": false, "zero": false},
        "axis": {"orient": "right", "title": null, "grid": true, "values": [4.31, 4.32, 4.33, 4.35], "format": ".3f", "labelPadding": 4}}
 }},
{"data": {"name": "ustLast", "format": {"parse": {"t": "date:'%d %H:%M'", "t2": "date:'%d %H:%M'"}}},
 "mark": {"type": "rule", "color": "#00996a", "strokeWidth": 1.2, "clip": true},
 "encoding": {"x": {"field": "t", "type": "temporal", "axis": null}, "x2": {"field": "t2"},
  "y": {"field": "v", "type": "quantitative", "axis": {"orient": "right", "title": null, "grid": false, "labels": false, "domain": false, "tickSize": 4, "tickWidth": 1, "values": [4.305, 4.315, 4.325, 4.335, 4.345]}}}},
{"data": {"values": [{"t": "28 04:31", "v": 4.3208, "label": "米国債10年（右軸）"}], "format": {"parse": {"t": "date:'%d %H:%M'"}}},
 "mark": {"type": "text", "font": "Noto Sans CJK JP", "fontSize": 30, "fontWeight": "bold", "color": "#00996a", "baseline": "middle"},
 "encoding": {"x": {"field": "t", "type": "temporal", "axis": null},
  "y": {"field": "v", "type": "quantitative", "axis": {"orient": "right", "title": null, "grid": true, "labels": false, "domain": false, "values": [4.34]}}, "text": {"field": "label"}}},
{"data": {"name": "ustLast"},
 "mark": {"type": "point", "shape": "M0,0L0.6,-1.25L6.6,-1.25L6.6,1.25L0.6,1.25Z", "size": 400, "filled": true, "color": "#00996a", "opacity": 1, "strokeWidth": 0},
 "encoding": {"x": {"datum": {"year": 1900, "month": 1, "date": 28, "hours": 7, "minutes": 24, "seconds": 20}, "type": "temporal", "axis": null}, "y": {"field": "v", "type": "quantitative", "axis": null}}},
{"data": {"name": "ustLast"},
 "mark": {"type": "text", "align": "left", "baseline": "middle", "dx": 11, "font": "DejaVu Sans Condensed", "fontSize": 18, "color": "#f4f4f4"},
 "encoding": {"x": {"datum": {"year": 1900, "month": 1, "date": 28, "hours": 7, "minutes": 24, "seconds": 20}, "type": "temporal", "axis": null}, "y": {"field": "v", "type": "quantitative", "axis": null}, "text": {"field": "v", "type": "quantitative", "format": ".3f"}}}
]}
]
},
{
"width": 1851, "height": 309,
"resolve": {"scale": {"y": "independent"}, "axis": {"x": "independent", "y": "independent"}},
"layer": [
{"resolve": {"axis": {"x": "independent", "y": "independent"}},
 "layer": [
{"data": {"name": "nkAM", "format": {"parse": {"t": "date:'%d %H:%M'"}}},
 "mark": {"type": "line", "interpolate": "step-after", "color": "#132b4b", "strokeWidth": 3.2, "clip": true},
 "encoding": {
  "x": {"field": "t", "type": "temporal", "scale": {"domain": [{"year": 1900, "month": 1, "date": 27, "hours": 7, "minutes": 58, "seconds": 45}, {"year": 1900, "month": 1, "date": 28, "hours": 7, "minutes": 24, "seconds": 20}], "nice": false},
        "axis": {"title": null, "orient": "bottom", "labels": false, "ticks": false, "domain": true, "domainWidth": 6, "domainColor": "#4a4a4a", "grid": true,
                 "values": [{"year":1900,"month":1,"date":27,"hours":9},{"year":1900,"month":1,"date":27,"hours":10},{"year":1900,"month":1,"date":27,"hours":11},{"year":1900,"month":1,"date":27,"hours":12},{"year":1900,"month":1,"date":27,"hours":13},{"year":1900,"month":1,"date":27,"hours":14},{"year":1900,"month":1,"date":27,"hours":15},{"year":1900,"month":1,"date":27,"hours":16},{"year":1900,"month":1,"date":27,"hours":17},{"year":1900,"month":1,"date":27,"hours":18},{"year":1900,"month":1,"date":27,"hours":19},{"year":1900,"month":1,"date":27,"hours":20},{"year":1900,"month":1,"date":27,"hours":21},{"year":1900,"month":1,"date":27,"hours":22},{"year":1900,"month":1,"date":27,"hours":23},{"year":1900,"month":1,"date":28,"hours":0},{"year":1900,"month":1,"date":28,"hours":1},{"year":1900,"month":1,"date":28,"hours":2},{"year":1900,"month":1,"date":28,"hours":3},{"year":1900,"month":1,"date":28,"hours":4},{"year":1900,"month":1,"date":28,"hours":5},{"year":1900,"month":1,"date":28,"hours":6},{"year":1900,"month":1,"date":28,"hours":7}]}},
  "y": {"field": "v", "type": "quantitative", "scale": {"domain": [59458.3, 61080.3], "nice": false, "zero": false},
        "axis": {"orient": "left", "title": null, "grid": false, "values": [59600, 59800, 60000, 60200, 60400, 60600, 60800, 61000], "format": "d", "labelPadding": 4}}
 }},
{"data": {"name": "nkLunch", "format": {"parse": {"t": "date:'%d %H:%M'"}}},
 "mark": {"type": "line", "interpolate": "linear", "color": "#132b4b", "strokeWidth": 2.6, "clip": true},
 "encoding": {"x": {"field": "t", "type": "temporal", "axis": null}, "y": {"field": "v", "type": "quantitative", "axis": null}}},
{"data": {"name": "nkPM", "format": {"parse": {"t": "date:'%d %H:%M'"}}},
 "mark": {"type": "line", "interpolate": "step-after", "color": "#132b4b", "strokeWidth": 3.2, "clip": true},
 "encoding": {"x": {"field": "t", "type": "temporal", "axis": null}, "y": {"field": "v", "type": "quantitative", "axis": null}}},
{"data": {"name": "nkLast", "format": {"parse": {"t": "date:'%d %H:%M'", "t2": "date:'%d %H:%M'"}}},
 "mark": {"type": "rule", "color": "#132b4b", "strokeWidth": 1.2, "clip": true},
 "encoding": {"x": {"field": "t", "type": "temporal", "axis": null}, "x2": {"field": "t2"},
  "y": {"field": "v", "type": "quantitative", "axis": {"orient": "left", "title": null, "grid": false, "labels": false, "domain": false, "tickSize": 4, "tickWidth": 1, "values": [59500, 59700, 59900, 60100, 60300, 60500, 60700, 60900]}}}},
{"data": {"name": "midnight", "format": {"parse": {"t": "date:'%d %H:%M'"}}},
 "mark": {"type": "rule", "color": "#111111", "strokeWidth": 1.5},
 "encoding": {"x": {"field": "t", "type": "temporal", "axis": null}}},
{"data": {"values": [{"t": "27 14:23", "v": 60198, "label": "日経平均株価（左軸）"}], "format": {"parse": {"t": "date:'%d %H:%M'"}}},
 "mark": {"type": "text", "font": "Noto Sans CJK JP", "fontSize": 30, "fontWeight": "bold", "color": "#111111", "baseline": "middle"},
 "encoding": {"x": {"field": "t", "type": "temporal", "axis": null}, "y": {"field": "v", "type": "quantitative", "axis": null}, "text": {"field": "label"}}},
{"data": {"name": "nkLast"},
 "mark": {"type": "point", "shape": "M0,0L-0.6,-1.25L-8.4,-1.25L-8.4,1.25L-0.6,1.25Z", "size": 400, "filled": true, "color": "#132b4b", "opacity": 1, "strokeWidth": 0},
 "encoding": {"x": {"datum": {"year": 1900, "month": 1, "date": 27, "hours": 7, "minutes": 58, "seconds": 45}, "type": "temporal", "axis": null}, "y": {"field": "v", "type": "quantitative", "axis": null}}},
{"data": {"name": "nkLast"},
 "mark": {"type": "text", "align": "right", "baseline": "middle", "dx": -8, "font": "DejaVu Sans Condensed", "fontSize": 17, "color": "#f0f0f0"},
 "encoding": {"x": {"datum": {"year": 1900, "month": 1, "date": 27, "hours": 7, "minutes": 58, "seconds": 45}, "type": "temporal", "axis": null}, "y": {"field": "v", "type": "quantitative", "axis": null}, "text": {"field": "v", "type": "quantitative", "format": ".2f"}}}
]},
{"resolve": {"axis": {"x": "independent", "y": "independent"}},
 "layer": [
{"data": {"name": "dj", "format": {"parse": {"t": "date:'%d %H:%M'"}}},
 "mark": {"type": "line", "interpolate": "step-after", "color": "#00996a", "strokeWidth": 3.2, "clip": true},
 "encoding": {
  "x": {"field": "t", "type": "temporal", "axis": null},
  "y": {"field": "v", "type": "quantitative", "scale": {"domain": [48990.6, 49389.6], "nice": false, "zero": false},
        "axis": {"orient": "right", "title": null, "grid": true, "values": [49050, 49100, 49150, 49200, 49250, 49300, 49350], "format": "d", "labelPadding": 4}}
 }},
{"data": {"name": "djLast", "format": {"parse": {"t": "date:'%d %H:%M'", "t2": "date:'%d %H:%M'"}}},
 "mark": {"type": "rule", "color": "#00996a", "strokeWidth": 1.2, "clip": true},
 "encoding": {"x": {"field": "t", "type": "temporal", "axis": null}, "x2": {"field": "t2"},
  "y": {"field": "v", "type": "quantitative", "axis": {"orient": "right", "title": null, "grid": false, "labels": false, "domain": false, "tickSize": 4, "tickWidth": 1, "values": [49025, 49075, 49125, 49175, 49225, 49275, 49325, 49375]}}}},
{"data": {"values": [{"t": "28 03:23", "v": 49303, "label": "NYダウ（右軸）"}], "format": {"parse": {"t": "date:'%d %H:%M'"}}},
 "mark": {"type": "text", "font": "Noto Sans CJK JP", "fontSize": 30, "fontWeight": "bold", "color": "#00996a", "baseline": "middle"},
 "encoding": {"x": {"field": "t", "type": "temporal", "axis": null},
  "y": {"field": "v", "type": "quantitative", "axis": {"orient": "right", "title": null, "grid": true, "labels": false, "domain": false, "values": [49000]}}, "text": {"field": "label"}}},
{"data": {"name": "djLast"},
 "mark": {"type": "point", "shape": "M0,0L0.6,-1.25L6.6,-1.25L6.6,1.25L0.6,1.25Z", "size": 400, "filled": true, "color": "#00996a", "opacity": 1, "strokeWidth": 0},
 "encoding": {"x": {"datum": {"year": 1900, "month": 1, "date": 28, "hours": 7, "minutes": 24, "seconds": 20}, "type": "temporal", "axis": null}, "y": {"field": "v", "type": "quantitative", "axis": null}}},
{"data": {"name": "djLast"},
 "mark": {"type": "text", "align": "left", "baseline": "middle", "dx": 11, "font": "DejaVu Sans Condensed", "fontSize": 18, "color": "#f4f4f4"},
 "encoding": {"x": {"datum": {"year": 1900, "month": 1, "date": 28, "hours": 7, "minutes": 24, "seconds": 20}, "type": "temporal", "axis": null}, "y": {"field": "v", "type": "quantitative", "axis": null}, "text": {"field": "v", "type": "quantitative", "format": "d"}}}
]}
]
},
{
"width": 1851, "height": 306,
"resolve": {"scale": {"y": "independent"}, "axis": {"x": "independent", "y": "independent"}},
"layer": [
{"resolve": {"axis": {"x": "independent", "y": "independent"}},
 "layer": [
{"data": {"name": "uj", "format": {"parse": {"t": "date:'%d %H:%M'"}}},
 "mark": {"type": "line", "interpolate": "step-after", "color": "#132b4b", "strokeWidth": 3.2, "clip": true},
 "encoding": {
  "x": {"field": "t", "type": "temporal", "scale": {"domain": [{"year": 1900, "month": 1, "date": 27, "hours": 7, "minutes": 58, "seconds": 45}, {"year": 1900, "month": 1, "date": 28, "hours": 7, "minutes": 24, "seconds": 20}], "nice": false},
        "axis": {"title": "27 4月 2026", "orient": "bottom", "grid": true, "domain": true, "domainColor": "#333333", "domainWidth": 1.5, "ticks": true, "tickSize": 6, "tickColor": "#333333", "format": "%H:%M",
                 "values": [{"year":1900,"month":1,"date":27,"hours":9},{"year":1900,"month":1,"date":27,"hours":10},{"year":1900,"month":1,"date":27,"hours":11},{"year":1900,"month":1,"date":27,"hours":12},{"year":1900,"month":1,"date":27,"hours":13},{"year":1900,"month":1,"date":27,"hours":14},{"year":1900,"month":1,"date":27,"hours":15},{"year":1900,"month":1,"date":27,"hours":16},{"year":1900,"month":1,"date":27,"hours":17},{"year":1900,"month":1,"date":27,"hours":18},{"year":1900,"month":1,"date":27,"hours":19},{"year":1900,"month":1,"date":27,"hours":20},{"year":1900,"month":1,"date":27,"hours":21},{"year":1900,"month":1,"date":27,"hours":22},{"year":1900,"month":1,"date":27,"hours":23},{"year":1900,"month":1,"date":28,"hours":0},{"year":1900,"month":1,"date":28,"hours":1},{"year":1900,"month":1,"date":28,"hours":2},{"year":1900,"month":1,"date":28,"hours":3},{"year":1900,"month":1,"date":28,"hours":4},{"year":1900,"month":1,"date":28,"hours":5},{"year":1900,"month":1,"date":28,"hours":6},{"year":1900,"month":1,"date":28,"hours":7}],
                 "labelFlush": false, "labelPadding": 3, "titlePadding": 1, "titleFontSize": 16, "titleFontWeight": "normal", "titleColor": "#2a2a2a"}},
  "y": {"field": "v", "type": "quantitative", "scale": {"domain": [159.0478, 159.6519], "nice": false, "zero": false},
        "axis": {"orient": "left", "title": null, "grid": false, "values": [159.1, 159.2, 159.3, 159.5, 159.6], "format": ".2f", "labelPadding": 4}}
 }},
{"data": {"name": "ujLast", "format": {"parse": {"t": "date:'%d %H:%M'", "t2": "date:'%d %H:%M'"}}},
 "mark": {"type": "rule", "color": "#132b4b", "strokeWidth": 1.2, "clip": true},
 "encoding": {
  "x": {"field": "t", "type": "temporal", "axis": {"orient": "bottom", "title": null, "grid": false, "labels": false, "domain": false, "ticks": true, "tickSize": 6, "tickWidth": 1.2, "tickColor": "#333333",
        "values": [{"year":1900,"month":1,"date":27,"hours":8,"minutes":30},{"year":1900,"month":1,"date":27,"hours":9,"minutes":30},{"year":1900,"month":1,"date":27,"hours":10,"minutes":30},{"year":1900,"month":1,"date":27,"hours":11,"minutes":30},{"year":1900,"month":1,"date":27,"hours":12,"minutes":30},{"year":1900,"month":1,"date":27,"hours":13,"minutes":30},{"year":1900,"month":1,"date":27,"hours":14,"minutes":30},{"year":1900,"month":1,"date":27,"hours":15,"minutes":30},{"year":1900,"month":1,"date":27,"hours":16,"minutes":30},{"year":1900,"month":1,"date":27,"hours":17,"minutes":30},{"year":1900,"month":1,"date":27,"hours":18,"minutes":30},{"year":1900,"month":1,"date":27,"hours":19,"minutes":30},{"year":1900,"month":1,"date":27,"hours":20,"minutes":30},{"year":1900,"month":1,"date":27,"hours":21,"minutes":30},{"year":1900,"month":1,"date":27,"hours":22,"minutes":30},{"year":1900,"month":1,"date":27,"hours":23,"minutes":30},{"year":1900,"month":1,"date":28,"hours":0,"minutes":30},{"year":1900,"month":1,"date":28,"hours":1,"minutes":30},{"year":1900,"month":1,"date":28,"hours":2,"minutes":30},{"year":1900,"month":1,"date":28,"hours":3,"minutes":30},{"year":1900,"month":1,"date":28,"hours":4,"minutes":30},{"year":1900,"month":1,"date":28,"hours":5,"minutes":30},{"year":1900,"month":1,"date":28,"hours":6,"minutes":30}]}},
  "x2": {"field": "t2"},
  "y": {"field": "v", "type": "quantitative", "axis": {"orient": "left", "title": null, "grid": false, "labels": false, "domain": false, "tickSize": 4, "tickWidth": 1, "values": [159.05, 159.15, 159.25, 159.35, 159.45, 159.55, 159.65]}}}},
{"data": {"name": "midnight", "format": {"parse": {"t": "date:'%d %H:%M'"}}},
 "mark": {"type": "rule", "color": "#111111", "strokeWidth": 1.5},
 "encoding": {"x": {"field": "t", "type": "temporal", "axis": null}}},
{"data": {"values": [{"t": "27 12:31", "v": 159.506, "label": "ドル円（左軸）"}], "format": {"parse": {"t": "date:'%d %H:%M'"}}},
 "mark": {"type": "text", "font": "Noto Sans CJK JP", "fontSize": 29, "fontWeight": "bold", "color": "#111111", "baseline": "middle"},
 "encoding": {"x": {"field": "t", "type": "temporal", "axis": null},
  "y": {"field": "v", "type": "quantitative", "axis": {"orient": "left", "title": null, "grid": false, "labels": false, "domain": false, "values": [159.4]}}, "text": {"field": "label"}}},
{"data": {"name": "ujLast"},
 "mark": {"type": "point", "shape": "M0,0L-0.6,-1.25L-8.4,-1.25L-8.4,1.25L-0.6,1.25Z", "size": 400, "filled": true, "color": "#132b4b", "opacity": 1, "strokeWidth": 0},
 "encoding": {"x": {"datum": {"year": 1900, "month": 1, "date": 27, "hours": 7, "minutes": 58, "seconds": 45}, "type": "temporal", "axis": null}, "y": {"field": "v", "type": "quantitative", "axis": null}}},
{"data": {"name": "ujLast"},
 "mark": {"type": "text", "align": "right", "baseline": "middle", "dx": -9, "font": "DejaVu Sans Condensed", "fontSize": 18, "color": "#f0f0f0"},
 "encoding": {"x": {"datum": {"year": 1900, "month": 1, "date": 27, "hours": 7, "minutes": 58, "seconds": 45}, "type": "temporal", "axis": null}, "y": {"field": "v", "type": "quantitative", "axis": null}, "text": {"field": "v", "type": "quantitative", "format": ".2f"}}}
]},
{"resolve": {"axis": {"x": "independent", "y": "independent"}},
 "layer": [
{"data": {"name": "ej", "format": {"parse": {"t": "date:'%d %H:%M'"}}},
 "mark": {"type": "line", "interpolate": "step-after", "color": "#00996a", "strokeWidth": 3.2, "clip": true},
 "encoding": {
  "x": {"field": "t", "type": "temporal", "axis": null},
  "y": {"field": "v", "type": "quantitative", "scale": {"domain": [186.6576, 187.1511], "nice": false, "zero": false},
        "axis": {"orient": "right", "title": null, "grid": true, "values": [186.7, 186.75, 186.8, 186.85, 186.9, 186.95, 187, 187.05, 187.1], "format": ".2f", "labelPadding": 4}}
 }},
{"data": {"name": "ejLast", "format": {"parse": {"t": "date:'%d %H:%M'", "t2": "date:'%d %H:%M'"}}},
 "mark": {"type": "rule", "color": "#00996a", "strokeWidth": 1.2, "clip": true},
 "encoding": {"x": {"field": "t", "type": "temporal", "axis": null}, "x2": {"field": "t2"},
  "y": {"field": "v", "type": "quantitative", "axis": {"orient": "right", "title": null, "grid": false, "labels": false, "domain": false, "tickSize": 4, "tickWidth": 1, "values": [186.675, 186.725, 186.775, 186.825, 186.875, 186.925, 186.975, 187.025, 187.075, 187.125]}}}},
{"data": {"values": [{"t": "28 04:56", "v": 186.783, "label": "ユーロ円（右軸）"}], "format": {"parse": {"t": "date:'%d %H:%M'"}}},
 "mark": {"type": "text", "font": "Noto Sans CJK JP", "fontSize": 29, "fontWeight": "bold", "color": "#00996a", "baseline": "middle"},
 "encoding": {"x": {"field": "t", "type": "temporal", "axis": null}, "y": {"field": "v", "type": "quantitative", "axis": null}, "text": {"field": "label"}}},
{"data": {"name": "ejLast"},
 "mark": {"type": "point", "shape": "M0,0L0.6,-1.25L6.6,-1.25L6.6,1.25L0.6,1.25Z", "size": 400, "filled": true, "color": "#00996a", "opacity": 1, "strokeWidth": 0},
 "encoding": {"x": {"datum": {"year": 1900, "month": 1, "date": 28, "hours": 7, "minutes": 24, "seconds": 20}, "type": "temporal", "axis": null}, "y": {"field": "v", "type": "quantitative", "axis": null}}},
{"data": {"name": "ejLast"},
 "mark": {"type": "text", "align": "left", "baseline": "middle", "dx": 11, "font": "DejaVu Sans Condensed", "fontSize": 18, "color": "#f4f4f4"},
 "encoding": {"x": {"datum": {"year": 1900, "month": 1, "date": 28, "hours": 7, "minutes": 24, "seconds": 20}, "type": "temporal", "axis": null}, "y": {"field": "v", "type": "quantitative", "axis": null}, "text": {"field": "v", "type": "quantitative", "format": ".2f"}}}
]}
]
}
]
}
